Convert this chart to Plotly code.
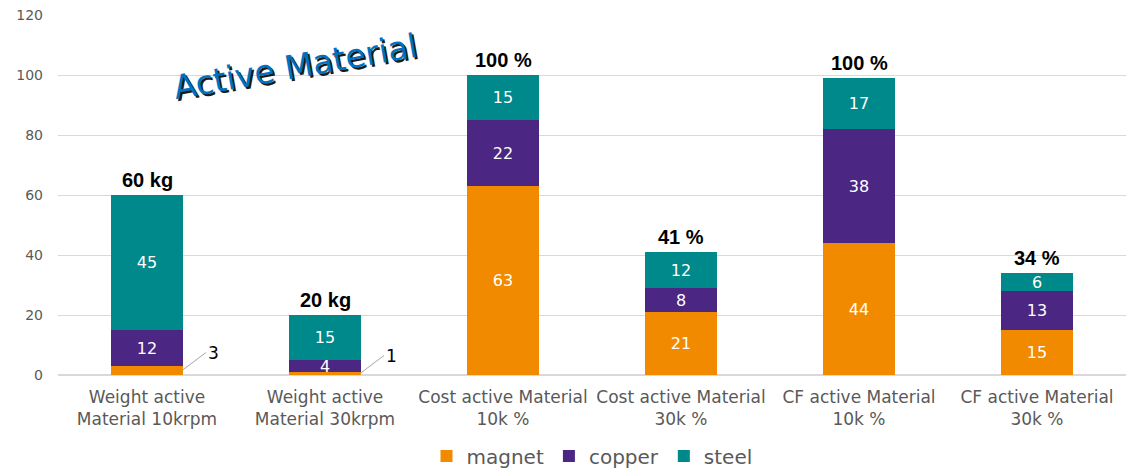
import plotly.graph_objects as go

categories = ["Weight active<br>Material 10krpm", "Weight active<br>Material 30krpm",
              "Cost active Material<br>10k %", "Cost active Material<br>30k %",
              "CF active Material<br>10k %", "CF active Material<br>30k %"]
magnet = [3, 1, 63, 21, 44, 15]
copper = [12, 4, 22, 8, 38, 13]
steel = [45, 15, 15, 12, 17, 6]
total_labels = ["60 kg", "20 kg", "100 %", "41 %", "100 %", "34 %"]
y_ticks = [0, 20, 40, 60, 80, 100, 120]

colors = {"magnet": "#F28A00", "copper": "#4B2682", "steel": "#00898A"}

fig = go.Figure()
for name, vals, hide in [("magnet", magnet, True), ("copper", copper, False), ("steel", steel, False)]:
    fig.add_trace(go.Bar(
        name=name, x=categories, y=vals, marker_color=colors[name],
        marker_line_width=0,
        text=[("" if (hide and v < 5) else str(v)) for v in vals],
        textposition="inside", insidetextanchor="middle", textangle=0,
        textfont=dict(color="white", size=16, family="DejaVu Sans"),
        hoverinfo="skip",
    ))

# totals above bars
for i, c in enumerate(categories):
    tot = magnet[i] + copper[i] + steel[i]
    fig.add_annotation(x=c, y=tot, text="<b>%s</b>" % total_labels[i], showarrow=False,
                       yanchor="bottom", yshift=2,
                       font=dict(size=20, color="black", family="Liberation Sans"))

# leader labels for small magnet values
for i in [0, 1]:
    if magnet[i] < 5:
        fig.add_annotation(x=categories[i], y=magnet[i] / 2, xshift=35,
                           text=str(magnet[i]), showarrow=True, arrowhead=0,
                           arrowcolor="#A6A6A6", arrowwidth=1,
                           ax=24, ay=-18, xanchor="left",
                           font=dict(size=17, color="black", family="DejaVu Sans"))

# title with shadow
for dx, dy, col in [(2, -2, "#1a1a1a"), (0, 0, "#0070C0")]:
    fig.add_annotation(xref="paper", yref="paper", x=0.222, y=0.856, text="Active Material",
                       showarrow=False, textangle=-10, xshift=dx, yshift=dy,
                       xanchor="center", yanchor="middle",
                       font=dict(size=33, color=col, family="DejaVu Sans"))

fig.update_layout(
    barmode="stack", bargap=0.6,
    width=1127, height=470,
    margin=dict(l=58, r=1, t=15, b=95, autoexpand=False),
    plot_bgcolor="white", paper_bgcolor="white",
    uniformtext=dict(minsize=16, mode="show"),
    legend=dict(orientation="h", x=0.5, xanchor="center", y=-0.225, yanchor="middle",
                font=dict(size=20, color="#595959", family="DejaVu Sans"),
                itemwidth=30, traceorder="normal"),
    font=dict(family="DejaVu Sans", color="#595959"),
)
fig.update_yaxes(range=[0, 120], tickvals=y_ticks, showgrid=True, gridcolor="#D9D9D9",
                 zeroline=True, zerolinecolor="#D9D9D9", showline=False,
                 tickfont=dict(size=14, color="#595959"), ticks="", ticklen=0,
                 ticklabelstandoff=14, automargin=False)
fig.update_xaxes(tickfont=dict(size=17, color="#595959"), showline=False, ticks="",
                 ticklabelstandoff=10, automargin=False)

fig.write_html("out.html")
